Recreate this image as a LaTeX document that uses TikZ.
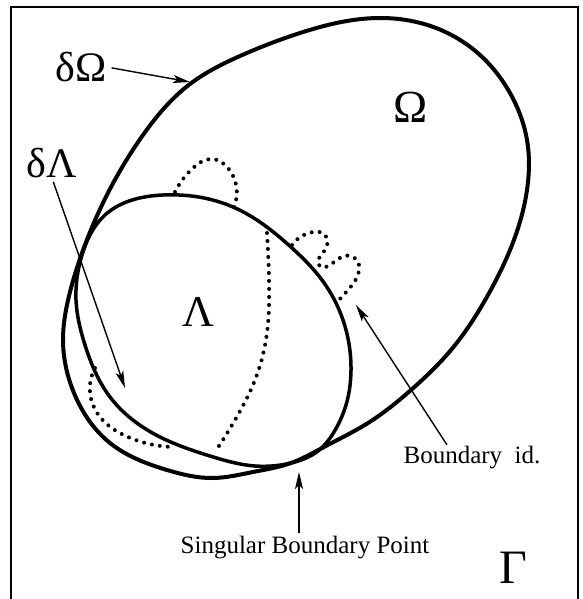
\documentclass[tikz,border=0pt]{standalone}
\usepackage{fontspec}
\setmainfont{Liberation Serif}
\usetikzlibrary{arrows.meta, hobby}

\begin{document}
\begin{tikzpicture}[
    x=1pt, y=-1pt,
    >={Stealth[length=17pt, width=8pt, inset=4pt]},
    region/.style={line width=4pt, line join=round, use Hobby shortcut, closed=true},
    cutline/.style={line width=4pt, line cap=round, dash pattern=on 0pt off 8pt, use Hobby shortcut},
    pointer/.style={->, line width=1.4pt},
    greek/.style={inner sep=0pt, font=\fontsize{42}{42}\selectfont},
    caption/.style={inner sep=0pt, font=\fontsize{25}{25}\selectfont},
]
\useasboundingbox (0,0) rectangle (582,599);

% --- frame (Gamma) ---
\draw[line width=1.6pt] (11,599) -- (11,7) -- (578,7) -- (578,599);

% --- Omega ---
\draw[region] (381,18) .. (441,30) .. (480,55) .. (510,93) .. (527,140) .. (527,190)
    .. (512,245) .. (488,295) .. (451,350) .. (411,390) .. (368,423) .. (324,447)
    .. (291,463) .. (253,472) .. (213,478) .. (167,470) .. (110,443) .. (74,393)
    .. (63,340) .. (69,296) .. (82,253) .. (102,205) .. (143,135) .. (190,84)
    .. (240,56) .. (300,33);

% --- Lambda ---
\draw[region, line width=3.5pt] (163,195) .. (233,207) .. (292,248) .. (322,280)
    .. (343,320) .. (351,370) .. (346,405) .. (334,432) .. (318,451) .. (291,463)
    .. (255,466) .. (210,456) .. (160,437) .. (110,397) .. (85,345) .. (76,300)
    .. (82,255) .. (105,215);

% --- dotted cuts ---
\draw[cutline] (175,192) .. (193,168) .. (212,159) .. (228,168) .. (234,207);
\draw[cutline] (292,245) .. (313,232) .. (324,234) .. (325,250) .. (319,265)
    .. (338,259) .. (356,259) .. (359,271) .. (348,290) .. (337,302);
\draw[cutline] (267,233) .. (269,280) .. (267,333) .. (255,380) .. (235,420) .. (215,452);
\draw[cutline] (95,368) .. (90,392) .. (100,417) .. (128,437) .. (174,447);

% --- labels ---
\node[greek] (dOmega) at (81,67) {δΩ};
\node[greek] (dLambda) at (52,163) {δΛ};
\node[greek, font=\fontsize{46}{46}\selectfont] (omega) at (411,107) {Ω};
\node[greek, font=\fontsize{44}{44}\selectfont] (lambda) at (198,312) {Λ};
\node[greek, font=\fontsize{48}{48}\selectfont] (gamma) at (513,568) {Γ};
\node[caption] (bid) at (472,458) {Boundary\ \ id.};
\node[caption] (sbp) at (305,548) {Singular Boundary Point};

\coordinate (dOmegatip) at (190,82);
\coordinate (dLambdatip) at (125,388);
\coordinate (bidtip) at (356,305);
\coordinate (sbptip) at (299,472);

% --- pointers ---
\draw[pointer, shorten <=5pt] (dOmega.east) -- (dOmegatip);
\draw[pointer, shorten <=4pt] (dLambda.south) -- (dLambdatip);
\draw[pointer, shorten <=2pt] ([xshift=-24pt]bid.north) -- (bidtip);
\draw[pointer, shorten <=3pt] (sbptip |- sbp.north) -- (sbptip);

\end{tikzpicture}
\end{document}
